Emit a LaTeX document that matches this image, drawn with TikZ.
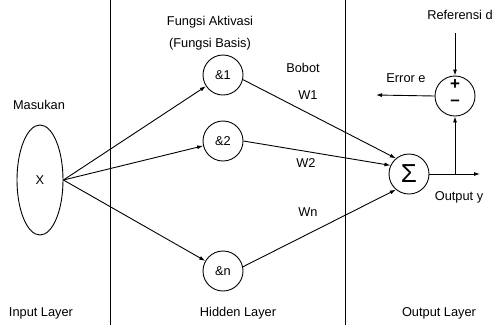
\documentclass[tikz,border=0pt]{standalone}
\usepackage{fontspec}
\setmainfont{Liberation Sans}
\usetikzlibrary{arrows.meta,shapes.geometric}
\begin{document}
\begin{tikzpicture}[x=1pt,y=-1pt,line width=0.9pt,
  lbl/.style={font=\fontsize{12.8}{14}\selectfont,inner sep=0pt},
  unit/.style={draw,circle,minimum size=40pt,inner sep=0pt,font=\fontsize{12.8}{14}\selectfont},
  sign/.style={font=\fontsize{17}{17}\selectfont\bfseries,inner sep=0pt},
  arr/.style={-{Latex[length=6pt,width=4pt]}}]
\useasboundingbox (0,0) rectangle (494,325);

% layer separators
\draw (110,0) -- (110,325);
\draw (345,0) -- (345,325);

% input
\node[lbl] (mas) at (39,105) {Masukan};
\node[draw,ellipse,minimum width=46pt,minimum height=110pt,inner sep=0pt,font=\fontsize{12.8}{14}\selectfont] (x) at (40,180) {X};

% hidden layer
\node[lbl] (fa) at (210,22) {Fungsi Aktivasi};
\node[lbl] (fb) at (210,44) {(Fungsi Basis)};
\node[unit] (h1) at (223,75) {\&1};
\node[unit] (h2) at (223,141) {\&2};
\node[unit] (hn) at (223,271) {\&n};

% weights
\node[lbl] (bob) at (303,68) {Bobot};
\node[lbl] (w1) at (308,95) {W1};
\node[lbl] (w2) at (306,163) {W2};
\node[lbl] (wn) at (308,212) {Wn};

% output layer
\node[unit,font=\fontsize{26}{26}\selectfont] (s) at (409,174) {Σ};
\node[unit] (pm) at (455,96) {};
\node[sign] (plus) at (455,85) {+};
\node[sign] (minus) at (455,103) {–};
\node[lbl] (refd) at (460,15) {Referensi d};
\node[lbl] (erre) at (406,78) {Error e};
\node[lbl] (outy) at (459,197) {Output y};

\coordinate (ref) at (455,33);
\coordinate (err) at (376,95);
\coordinate (out) at (480,174);
\coordinate (j) at (455,174);

% connectors
\draw[arr] (x.east) -- (h1);
\draw[arr] (x.east) -- (h2);
\draw[arr] (x.east) -- (hn);
\draw[arr] (h1.-13) -- (s.130);
\draw[arr] (h2.east) -- (s.155);
\draw[arr] (hn.12) -- (s.-130);
\draw[arr] (s.east) -- (out);
\draw[arr] (j) -- (pm.south);
\draw[arr] (ref) -- (pm.north);
\draw[arr] (pm.west) -- (err);

% layer names
\node[lbl] (il) at (41,313) {Input Layer};
\node[lbl] (hl) at (238,313) {Hidden Layer};
\node[lbl] (ol) at (439,313) {Output Layer};
\end{tikzpicture}
\end{document}
